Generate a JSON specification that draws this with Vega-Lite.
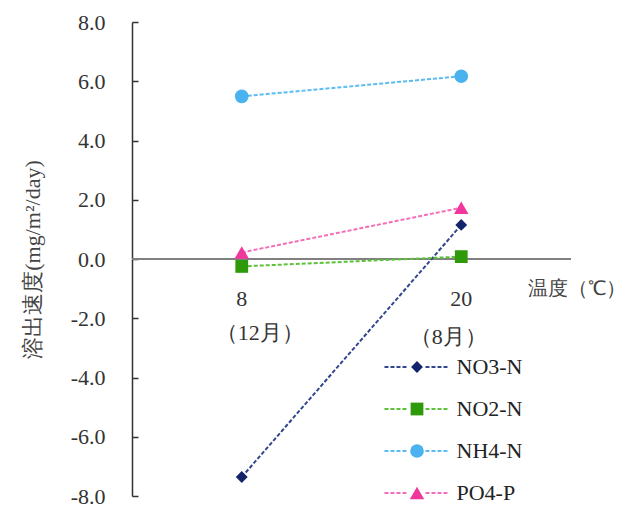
{
  "$schema": "https://vega.github.io/schema/vega-lite/v6.json",
  "width": 439,
  "height": 474,
  "autosize": {"type": "none"},
  "padding": {"left": 132, "top": 22, "right": 58, "bottom": 10},
  "background": "white",
  "config": {"view": {"stroke": null}, "font": "Liberation Serif"},
  "datasets": {
    "rates": [
      {"series": "NO3-N", "temp": "8", "value": -7.36},
      {"series": "NO3-N", "temp": "20", "value": 1.15},
      {"series": "NO2-N", "temp": "8", "value": -0.25},
      {"series": "NO2-N", "temp": "20", "value": 0.08},
      {"series": "NH4-N", "temp": "8", "value": 5.49},
      {"series": "NH4-N", "temp": "20", "value": 6.17},
      {"series": "PO4-P", "temp": "8", "value": 0.22},
      {"series": "PO4-P", "temp": "20", "value": 1.73}
    ],
    "cats": [
      {"temp": "8", "num": "8"},
      {"temp": "20", "num": "20"}
    ]
  },
  "layer": [
    {
      "data": {"name": "rates"},
      "mark": {"type": "rule", "color": "#808080", "strokeWidth": 2},
      "encoding": {
        "y": {"datum": 0, "type": "quantitative"}
      }
    },
    {
      "data": {"name": "rates"},
      "mark": {"type": "line", "strokeDash": [4, 2], "strokeWidth": 2},
      "encoding": {
        "x": {"field": "temp", "type": "nominal", "scale": {"type": "point", "padding": 0.5, "domain": ["8", "20"]}, "axis": null},
        "y": {
          "field": "value", "type": "quantitative",
          "scale": {"domain": [-8, 8], "nice": false, "zero": false},
          "axis": {
            "values": [-8, -6, -4, -2, 0, 2, 4, 6, 8],
            "labelExpr": "replace(format(datum.value, '.1f'), '\u2212', '-')",
            "grid": false,
            "labelFont": "Liberation Serif",
            "labelFontSize": 22,
            "labelColor": "#333333",
            "domainColor": "#333333",
            "domainWidth": 1.5,
            "tickColor": "#333333",
            "tickWidth": 1.5,
            "tickSize": -6,
            "labelPadding": 33,
            "title": "溶出速度(mg/m²/day)",
            "titleFont": "Liberation Serif",
            "titleFontSize": 22,
            "titleFontWeight": "normal",
            "titleColor": "#444444",
            "titlePadding": 26
          }
        },
        "stroke": {
          "field": "series", "type": "nominal",
          "scale": {"domain": ["NO2-N", "NO3-N", "NH4-N", "PO4-P"], "range": ["#5cc23a", "#33458c", "#5bbcf0", "#f56fb8"]},
          "legend": {
            "values": ["NO3-N", "NO2-N", "NH4-N", "PO4-P"],
            "orient": "none", "legendX": 274, "legendY": 334, "title": null, "padding": 0,
            "symbolType": "M-4.6,0H4.6", "symbolSize": 200, "symbolStrokeWidth": 2,
            "symbolDash": [4, 2, 4, 2, 4, 2, 4, 19, 4, 2, 4, 2, 4, 2, 4, 2],
            "labelFont": "Liberation Serif", "labelFontSize": 22, "labelColor": "#222222",
            "labelOffset": 28.5, "rowPadding": 20
          }
        }
      }
    },
    {
      "data": {"name": "rates"},
      "mark": {"type": "point", "filled": true, "opacity": 1, "strokeWidth": 0},
      "encoding": {
        "x": {"field": "temp", "type": "nominal"},
        "y": {"field": "value", "type": "quantitative"},
        "fill": {
          "field": "series", "type": "nominal",
          "scale": {"domain": ["NO3-N", "NO2-N", "NH4-N", "PO4-P"], "range": ["#13246b", "#2e9a0a", "#4ab2ee", "#f0389c"]},
          "legend": {
            "orient": "none", "legendX": 274, "legendY": 334, "title": null, "padding": 0,
            "symbolStrokeWidth": 0,
            "labelFont": "Liberation Serif", "labelFontSize": 22, "labelColor": "transparent",
            "labelOffset": 28.5, "rowPadding": 20
          }
        },
        "shape": {
          "field": "series", "type": "nominal",
          "scale": {"domain": ["NO3-N", "NO2-N", "NH4-N", "PO4-P"], "range": ["diamond", "square", "circle", "triangle-up"]},
          "legend": {
            "orient": "none", "legendX": 274, "legendY": 334, "title": null, "padding": 0,
            "symbolStrokeWidth": 0,
            "labelFont": "Liberation Serif", "labelFontSize": 22, "labelColor": "transparent",
            "labelOffset": 28.5, "rowPadding": 20
          }
        },
        "size": {
          "field": "series", "type": "nominal",
          "scale": {"domain": ["NO3-N", "NO2-N", "NH4-N", "PO4-P"], "range": [140, 210, 170, 160]},
          "legend": {
            "orient": "none", "legendX": 274, "legendY": 334, "title": null, "padding": 0,
            "symbolStrokeWidth": 0,
            "labelFont": "Liberation Serif", "labelFontSize": 22, "labelColor": "transparent",
            "labelOffset": 28.5, "rowPadding": 20
          }
        }
      }
    },
    {
      "data": {"name": "cats"},
      "mark": {"type": "text", "font": "Liberation Serif", "fontSize": 22, "color": "#333333", "baseline": "middle"},
      "encoding": {
        "x": {"field": "temp", "type": "nominal"},
        "y": {"datum": -1.35, "type": "quantitative"},
        "text": {"field": "num"}
      }
    },
    {
      "data": {"values": [{"temp": "8", "month": "（12月）"}]},
      "mark": {"type": "text", "font": "Liberation Serif", "fontSize": 22, "color": "#333333", "baseline": "middle", "dx": 18},
      "encoding": {
        "x": {"field": "temp", "type": "nominal"},
        "y": {"datum": -2.5, "type": "quantitative"},
        "text": {"field": "month"}
      }
    },
    {
      "data": {"values": [{"temp": "20", "month": "（8月）"}]},
      "mark": {"type": "text", "font": "Liberation Serif", "fontSize": 22, "color": "#333333", "baseline": "middle", "dx": -13},
      "encoding": {
        "x": {"field": "temp", "type": "nominal"},
        "y": {"datum": -2.62, "type": "quantitative"},
        "text": {"field": "month"}
      }
    },
    {
      "data": {"values": [{"label": "温度（℃）"}]},
      "mark": {"type": "text", "font": "Liberation Serif", "fontSize": 19.5, "color": "#444444", "baseline": "middle", "align": "left", "dx": 67},
      "encoding": {
        "x": {"datum": "20", "type": "nominal"},
        "y": {"datum": -1.0, "type": "quantitative"},
        "text": {"field": "label"}
      }
    }
  ]
}
